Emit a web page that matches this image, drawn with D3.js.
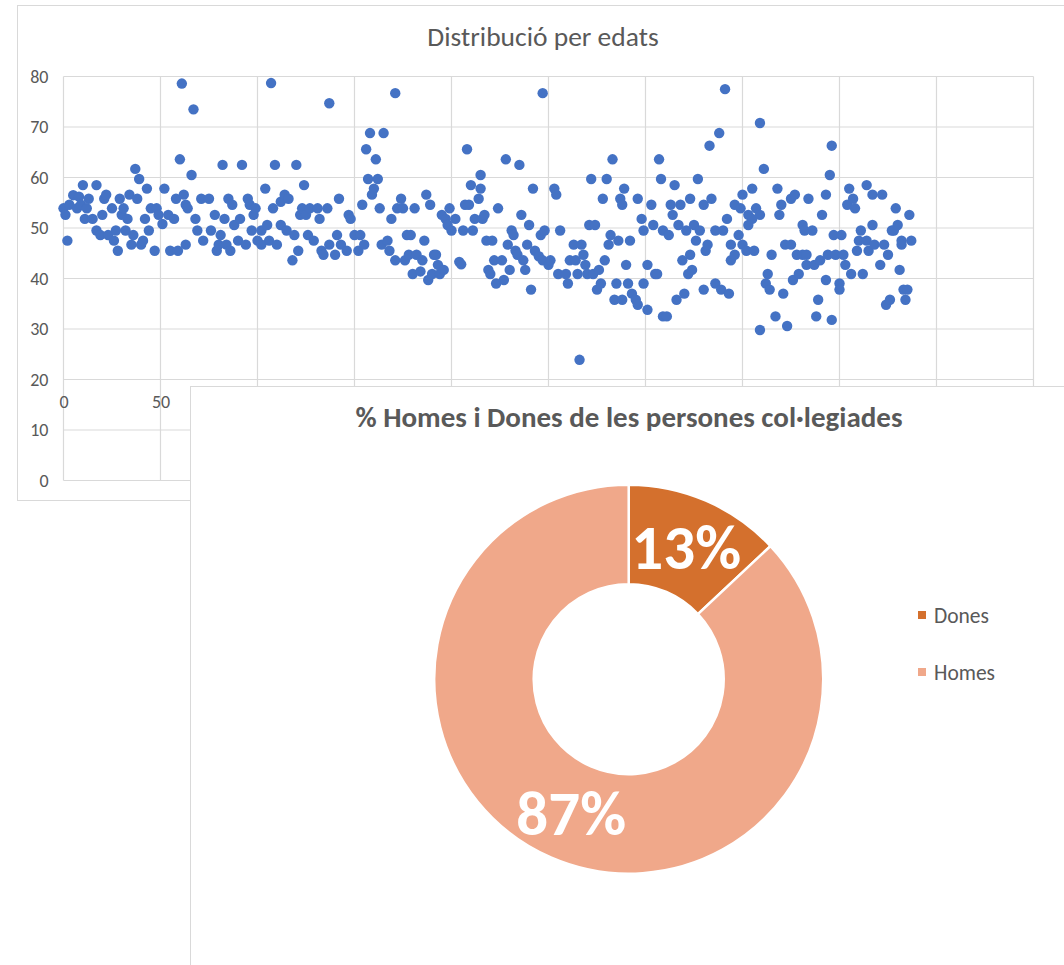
<!DOCTYPE html>
<html>
<head>
<meta charset="utf-8">
<script src="https://cdn.jsdelivr.net/npm/d3@7"></script>
<style>
  body { margin: 0; background: #fff; }
  text { font-family: Carlito, Calibri, "Liberation Sans", Arial, sans-serif; fill: #595959; }
</style>
</head>
<body>
<div id="chart"></div>
<script>
// ---------------------------------------------------------------- data
const scatterTitle = "Distribució per edats";
const pieTitle = "% Homes i Dones de les persones col·legiades";

// [persona, edat]
const agePoints = [
  [0,53.9],[1,52.6],[2,47.5],[3,54.6],[5,56.5],[7,53.9],[8,56.2],[9,54.6],[10,58.5],[11,51.8],[12,53.9],[13,55.8],[15,51.8],[17,58.5],[17,49.5],[19,48.6],[20,52.6],[21,55.8],[22,56.6],[23,48.6],[25,53.9],[26,47.5],[27,49.5],[28,45.5],[29,55.8],[30,52.6],[31,53.9],[32,49.5],[33,51.8],[34,56.6],[35,46.7],[36,48.6],[37,61.7],[38,55.8],[39,59.7],[40,46.7],[41,47.5],[42,51.8],[43,57.8],[44,49.5],[45,53.9],[47,45.5],[48,53.9],[49,52.6],[51,50.8],[52,57.8],[54,52.6],[55,45.5],[57,51.8],[58,55.8],[59,45.5],[60,63.6],[61,78.6],[62,56.6],[63,54.6],[63,46.7],
  [64,53.9],[66,60.5],[67,73.5],[68,51.8],[69,49.5],[71,55.8],[72,47.5],[75,55.8],[76,49.5],[78,52.6],[79,45.5],[80,46.7],[81,48.6],[82,62.5],[83,51.8],[84,46.7],[85,55.8],[86,45.5],[87,54.6],[88,50.6],[90,47.5],[91,51.8],[92,62.5],[94,46.7],[95,55.8],[96,54.6],[97,49.5],[98,52.6],[99,53.9],[100,47.5],[102,49.5],[102,46.7],[104,57.8],[105,50.6],[106,47.5],[107,78.7],[108,53.9],[109,62.5],[110,46.7],[112,55.2],[112,50.6],[114,56.6],[115,49.5],[116,55.8],[118,43.6],[119,48.6],[120,62.5],[121,45.5],[122,52.6],[123,53.9],[124,58.5],[125,52.6],[126,48.6],
  [127,53.9],[129,47.5],[131,53.9],[132,51.8],[133,45.5],[134,44.7],[136,53.9],[137,46.7],[137,74.7],[140,44.7],[141,48.6],[142,55.8],[143,46.7],[146,45.5],[147,52.6],[148,51.8],[150,48.6],[152,45.5],[153,48.6],[154,54.6],[155,46.7],[156,65.6],[157,59.7],[158,68.8],[159,56.6],[160,57.8],[161,63.6],[162,59.7],[163,53.9],[164,46.7],[165,68.8],[167,47.5],[168,45.5],[169,51.8],[171,43.6],[171,76.7],[172,53.9],[174,55.8],[175,53.9],[176,43.6],[177,48.6],[178,44.7],[179,48.6],[180,40.9],[181,53.9],[182,44.7],[184,41.4],[185,43.6],[186,47.5],[187,56.6],[188,39.7],[189,54.6],[190,40.9],[191,44.7],
  [192,44.7],[193,42.7],[194,40.9],[195,52.6],[196,41.7],[197,51.8],[198,50.6],[199,53.9],[200,49.5],[202,51.8],[204,43.3],[205,42.8],[206,49.5],[207,54.6],[208,65.6],[209,54.6],[210,58.5],[211,49.5],[212,51.8],[214,55.8],[215,57.8],[215,60.5],[216,51.8],[217,52.6],[218,47.5],[219,41.7],[220,40.9],[221,47.5],[222,43.6],[223,39.0],[224,53.9],[226,43.6],[227,39.7],[228,63.6],[229,46.7],[230,41.7],[231,49.5],[232,48.6],[233,45.5],[234,44.7],[235,62.5],[236,52.6],[237,43.6],[238,41.7],[239,46.7],[240,50.6],[241,37.8],[242,57.8],[243,45.5],[245,44.4],[246,48.6],[247,43.6],[247,76.7],[248,49.5],[250,42.7],[251,43.6],[253,57.8],[254,56.6],[255,40.9],[256,49.5],
  [259,40.9],[260,39.0],[261,43.6],[263,46.7],[264,43.6],[265,40.9],[266,23.9],[267,46.7],[268,44.7],[269,42.7],[270,40.9],[271,50.6],[272,59.7],[273,40.9],[274,50.6],[275,37.8],[276,41.7],[277,39.0],[278,55.8],[279,43.6],[280,59.7],[281,46.7],[282,48.6],[283,63.6],[284,35.8],[285,39.0],[286,47.5],[287,55.8],[288,35.8],[288,54.6],[289,57.8],[290,42.7],[291,39.0],[292,47.5],[293,37.0],[295,35.8],[296,34.8],[296,55.8],[298,51.8],[299,49.5],[299,39.0],[301,33.8],[301,42.7],[303,54.6],[304,50.6],[305,40.9],[306,40.9],[307,63.6],[308,59.7],[309,49.5],[309,32.5],[311,32.5],[312,48.6],[313,54.6],[314,52.6],[315,58.5],[316,35.8],[317,50.6],[318,54.6],[319,43.6],[320,37.0],
  [321,49.5],[322,40.9],[323,55.8],[323,44.7],[324,41.7],[325,50.6],[326,47.5],[327,59.7],[328,49.5],[330,37.8],[330,54.6],[331,45.5],[332,46.7],[333,66.3],[334,55.8],[336,49.5],[336,39.0],[338,68.8],[339,37.8],[340,49.5],[341,77.5],[342,51.8],[343,37.0],[344,46.7],[344,43.6],[346,44.7],[346,54.6],[348,48.6],[349,53.9],[350,56.6],[350,46.7],[352,45.5],[353,52.6],[353,50.6],[355,57.8],[355,51.8],[356,45.5],[357,53.9],[359,52.6],[359,70.8],[359,29.8],[361,61.7],[362,39.0],[363,40.9],[364,37.8],[365,44.7],[367,32.5],[368,57.8],[369,52.6],[370,54.6],[371,37.0],[372,46.7],[373,30.6],[375,55.8],[375,46.7],[376,39.7],[377,56.6],[378,44.7],[379,40.9],[381,50.6],[381,44.7],[382,49.5],[383,42.7],[384,55.8],
  [383,44.7],[386,49.5],[387,42.7],[388,32.5],[389,35.8],[390,43.6],[391,52.6],[393,56.6],[393,39.7],[394,44.7],[395,60.5],[396,66.3],[396,31.8],[397,48.6],[398,44.7],[400,39.0],[400,37.8],[401,48.6],[402,44.7],[403,42.7],[404,54.6],[405,57.8],[406,40.9],[407,55.8],[408,53.9],[409,45.5],[410,47.5],[411,49.5],[412,40.9],[414,58.5],[414,47.5],[415,45.5],[417,50.6],[417,56.6],[418,46.7],[421,42.7],[422,56.6],[423,46.7],[424,34.8],[425,44.7],[426,35.8],[427,49.5],[428,49.5],[429,53.9],[430,50.6],[431,41.7],[432,47.5],[432,46.7],[433,37.8],[434,35.8],[435,37.8],[436,52.6],[437,47.5]
];

const xTicks = [0, 50, 100, 150, 200, 250, 300, 350, 400, 450, 500];
const yTicks = [0, 10, 20, 30, 40, 50, 60, 70, 80];

const pieLabels = ["Dones", "Homes"];
const pieValues = [13, 87];
const pieColors = ["#D4702D", "#F0A88A"];

// ---------------------------------------------------------------- setup
const W = 1064, H = 965;
const pieBoxLeft = 190.5;   // the pie chart box lies over the scatter
const svg = d3.select("#chart").append("svg")
  .attr("width", W)
  .attr("height", H);

//---------------------------------------------------------------- scatter panel
svg.append("rect")
  .attr("x", 17.5).attr("y", 5.5)
  .attr("width", 1100).attr("height", 495)
  .attr("fill", "#fff").attr("stroke", "#d9d9d9");

const x = d3.scaleLinear().domain([0, 500]).range([63.5, 1033.5]);
const y = d3.scaleLinear().domain([0, 80]).range([480.5, 76.5]);

const grid = svg.append("g").attr("stroke", "#d9d9d9").attr("stroke-width", 1.2);
grid.selectAll("line.h").data(yTicks).enter().append("line")
  .attr("x1", x(0)).attr("x2", x(500))
  .attr("y1", d => y(d)).attr("y2", d => y(d));
grid.selectAll("line.v").data(xTicks).enter().append("line")
  .attr("x1", d => x(d)).attr("x2", d => x(d))
  .attr("y1", y(0)).attr("y2", y(80));

const yAxis = svg.append("g")
  .attr("transform", "translate(" + x(0) + ",0)")
  .call(d3.axisLeft(y).tickValues(yTicks).tickSize(0).tickPadding(15));
// only the labels that are not under the pie box are visible
const xAxis = svg.append("g")
  .attr("transform", "translate(0," + y(20) + ")")
  .call(d3.axisBottom(x).tickValues(xTicks.filter(v => x(v) + 15 < pieBoxLeft)).tickSize(0).tickPadding(16));
[xAxis, yAxis].forEach(a => {
  a.select(".domain").remove();
  a.selectAll("text").attr("font-size", 18).attr("fill", "#595959")
    .style("font-family", 'Carlito, Calibri, "Liberation Sans", Arial, sans-serif');
});

svg.append("text")
  .attr("x", 543).attr("y", 46)
  .attr("text-anchor", "middle")
  .attr("font-size", 27.5)
  .text(scatterTitle);

svg.append("g").selectAll("circle")
  .data(agePoints)
  .enter().append("circle")
  .attr("cx", d => x(d[0]))
  .attr("cy", d => y(d[1]))
  .attr("r", 5.2)
  .attr("fill", "#4472C4");

//---------------------------------------------------------------- pie panel (over the scatter)
svg.append("rect")
  .attr("x", pieBoxLeft).attr("y", 386.5)
  .attr("width", 1000).attr("height", 700)
  .attr("fill", "#fff").attr("stroke", "#d9d9d9");

svg.append("text")
  .attr("x", 629).attr("y", 427)
  .attr("text-anchor", "middle")
  .attr("font-size", 29)
  .attr("font-weight", "bold")
  .text(pieTitle);

const cx = 628.7, cy = 679.2;
const pie = d3.pie().sort(null).value(d => d)(pieValues);
const arc = d3.arc().innerRadius(95).outerRadius(194.5);

const pg = svg.append("g").attr("transform", "translate(" + cx + "," + cy + ")");
pg.selectAll("path").data(pie).enter().append("path")
  .attr("d", arc)
  .attr("fill", (d, i) => pieColors[i])
  .attr("stroke", "#fff")
  .attr("stroke-width", 2.5);

pg.selectAll("text").data(pie).enter().append("text")
  .attr("transform", d => "translate(" + arc.centroid(d) + ")")
  .attr("text-anchor", "middle")
  .attr("dy", "0.36em")
  .attr("font-size", 63)
  .attr("font-weight", "bold")
  .style("fill", "#fff")
  .text(d => d.data + "%");

//---------------------------------------------------------------- legend
const leg = svg.append("g").selectAll("g").data(pieLabels).enter().append("g")
  .attr("transform", (d, i) => "translate(918," + (611 + i * 57) + ")");
leg.append("rect").attr("width", 8).attr("height", 8).attr("fill", (d, i) => pieColors[i]);
leg.append("text").attr("x", 16).attr("y", 4).attr("dy", "0.36em")
  .attr("font-size", 21.5).text(d => d);
</script>
</body>
</html>
